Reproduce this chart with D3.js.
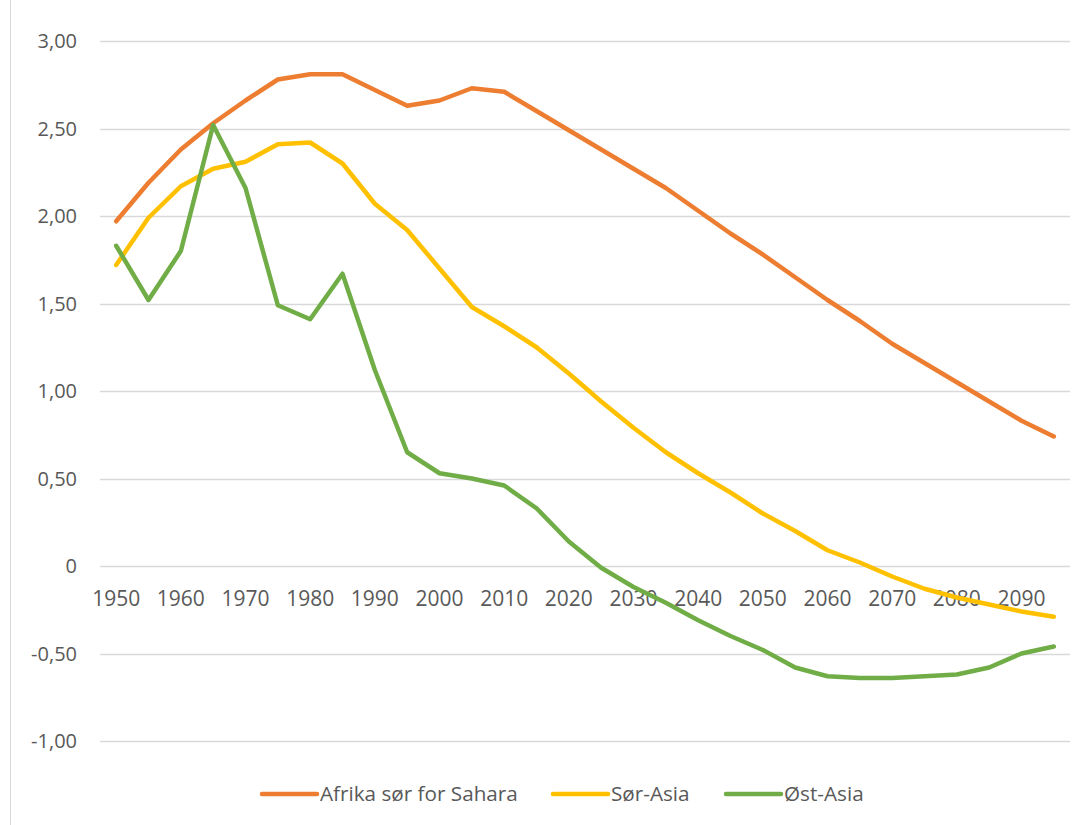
<!DOCTYPE html>
<html>
<head>
<meta charset="utf-8">
<script src="https://cdn.jsdelivr.net/npm/d3@7"></script>
<style>
  body { margin: 0; background: #fff; font-family: 'Open Sans', sans-serif; }
  svg text { fill: #595959; }
</style>
</head>
<body>
<div id="chart"></div>
<script>
const years = d3.range(1950, 2100, 5)
const yTicks = [-1, -0.5, 0, 0.5, 1, 1.5, 2, 2.5, 3]
const seriesNames = ['Afrika sør for Sahara', 'Sør-Asia', 'Øst-Asia']
const colors = ['#ED7D31', '#FFC000', '#70AD47']

const afrika = [1.97, 2.19, 2.38, 2.53, 2.66, 2.78, 2.81, 2.81, 2.72, 2.63,
    2.66, 2.73, 2.71, 2.60, 2.49, 2.38, 2.27, 2.16, 2.03, 1.90,
    1.78, 1.65, 1.52, 1.40, 1.27, 1.16, 1.05, 0.94, 0.83, 0.74]
const sorAsia = [1.72, 1.99, 2.17, 2.27, 2.31, 2.41, 2.42, 2.30, 2.07, 1.92,
    1.70, 1.48, 1.37, 1.25, 1.10, 0.94, 0.79, 0.65, 0.53, 0.42,
    0.30, 0.20, 0.09, 0.02, -0.06, -0.13, -0.18, -0.22, -0.26, -0.29]
const ostAsia = [1.83, 1.52, 1.80, 2.52, 2.16, 1.49, 1.41, 1.67, 1.12, 0.65,
    0.53, 0.50, 0.46, 0.33, 0.14, -0.01, -0.12, -0.21, -0.31, -0.40,
    -0.48, -0.58, -0.63, -0.64, -0.64, -0.63, -0.62, -0.58, -0.50, -0.46]
const seriesValues = [afrika, sorAsia, ostAsia]

const width = 1091
const height = 825

const svg = d3.select('#chart').append('svg')
    .attr('width', width).attr('height', height)

// chart border (left edge visible)
svg.append('line')
    .attr('x1', 10.5).attr('x2', 10.5)
    .attr('y1', 0).attr('y2', height)
    .attr('stroke', '#d9d9d9').attr('stroke-width', 1)

const x = d3.scalePoint()
    .domain(years)
    .range([100, 1070])
    .padding(0.5)

const y = d3.scaleLinear()
    .domain([-1, 3])
    .range([741, 41])

const fmt = d => d === 0 ? '0' : d.toFixed(2).replace('.', ',')

// gridlines
svg.append('g').selectAll('line')
    .data(yTicks)
    .join('line')
    .attr('x1', 100).attr('x2', 1070)
    .attr('y1', d => Math.round(y(d)) + 0.5)
    .attr('y2', d => Math.round(y(d)) + 0.5)
    .attr('stroke', '#d9d9d9').attr('stroke-width', 1.3)

// y labels
svg.append('g').selectAll('text')
    .data(yTicks)
    .join('text')
    .attr('x', 77)
    .attr('y', d => y(d))
    .attr('dy', '0.35em')
    .attr('text-anchor', 'end')
    .style('font-size', '20px')
    .text(fmt)

// x labels at zero line
svg.append('g').selectAll('text')
    .data(years.filter(d => d % 10 === 0))
    .join('text')
    .attr('x', d => x(d))
    .attr('y', y(0) + 40)
    .attr('text-anchor', 'middle')
    .style('font-size', '21px')
    .text(d => d)

// lines
const line = d3.line()
    .x((d, i) => x(years[i]))
    .y(d => y(d))

svg.append('g').selectAll('path')
    .data(seriesValues)
    .join('path')
    .attr('d', d => line(d))
    .attr('fill', 'none')
    .attr('stroke', (d, i) => colors[i])
    .attr('stroke-width', 4.5)
    .attr('stroke-linejoin', 'round')
    .attr('stroke-linecap', 'round')

// legend
const legendX = [262, 553, 726]
const legend = svg.append('g').selectAll('g')
    .data(seriesNames)
    .join('g')
    .attr('transform', (d, i) => `translate(${legendX[i]},794)`)
legend.append('line')
    .attr('x1', 0).attr('x2', 55)
    .attr('stroke', (d, i) => colors[i])
    .attr('stroke-width', 4.5)
    .attr('stroke-linecap', 'round')
legend.append('text')
    .attr('x', 58)
    .attr('dy', '0.35em')
    .style('font-size', '20.7px')
    .text(d => d)
</script>
</body>
</html>
